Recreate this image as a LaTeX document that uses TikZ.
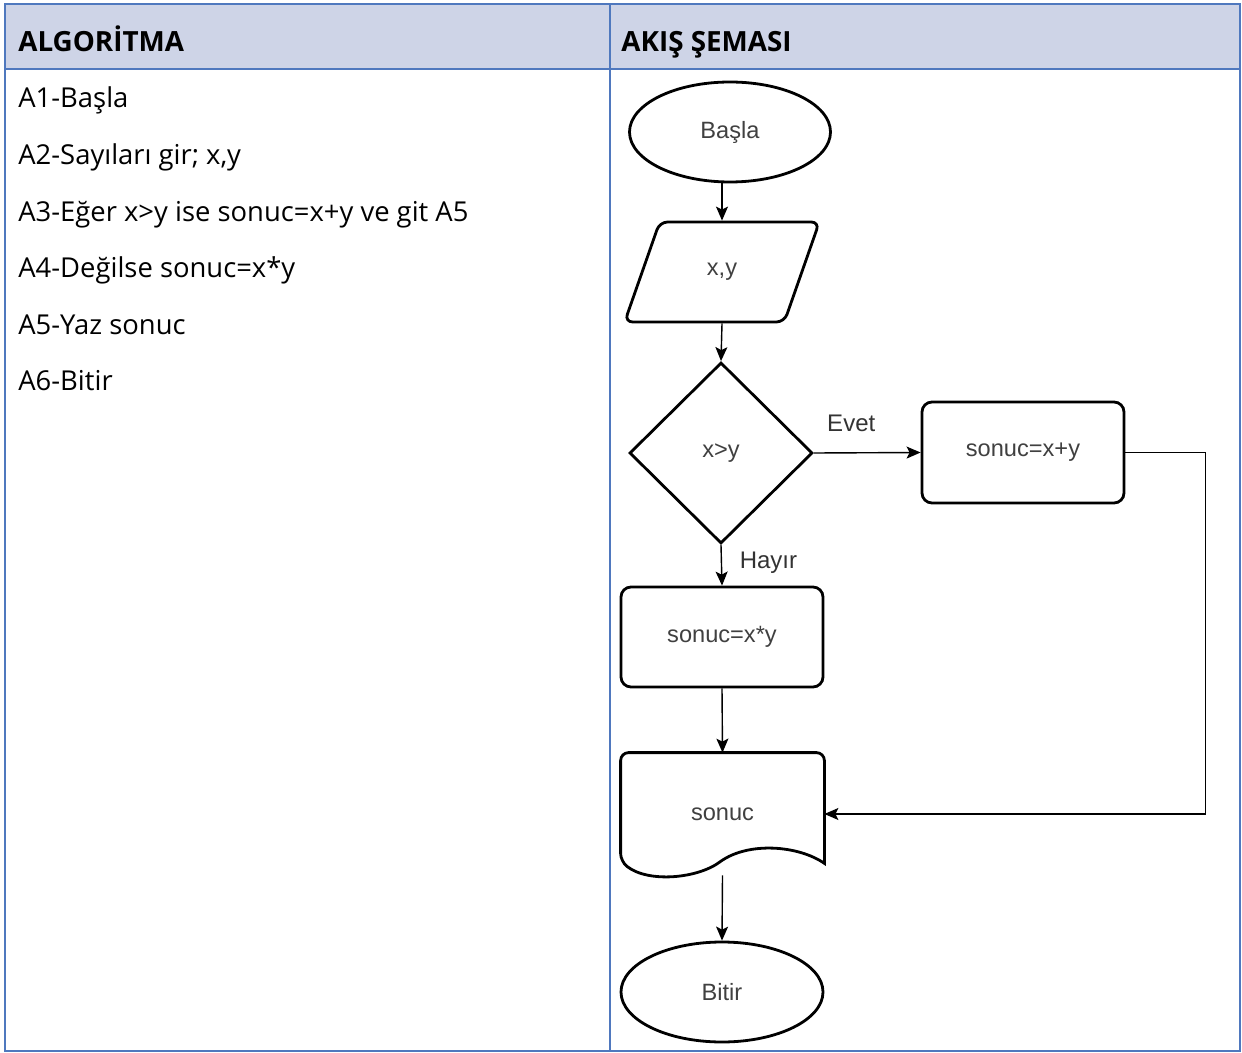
\documentclass[tikz,border=0pt]{standalone}
\usepackage{fontspec}
\setmainfont{Open Sans}
\newfontfamily\chartfont{Liberation Sans}
\usetikzlibrary{arrows.meta,calc,shapes.geometric}
\definecolor{tblborder}{RGB}{79,120,190}
\definecolor{tblhead}{RGB}{206,212,231}
\definecolor{chartgray}{RGB}{64,64,64}
\definecolor{labelgray}{RGB}{51,51,51}

\begin{document}
\begin{tikzpicture}[x=0.5pt,y=-0.5pt,
  shp/.style={draw=black,line width=1.4pt,font=\chartfont\fontsize{11.8}{14}\selectfont,text=chartgray,inner sep=0pt},
  arr/.style={line width=0.7pt,-{Stealth[length=7pt,width=6pt,inset=1.5pt]}},
  lbl/.style={font=\chartfont\fontsize{12}{14}\selectfont,text=labelgray},
  head/.style={anchor=base west,inner sep=0pt,font=\bfseries\fontsize{13.9}{16}\selectfont},
  algline/.style={anchor=base west,inner sep=0pt,font=\fontsize{13.7}{16}\selectfont}]
  \useasboundingbox (0,0) rectangle (1242,1053);
  \fill[tblhead] (5,4) rectangle (1240,69);
  \draw[tblborder,line width=1pt] (5,4) rectangle (1240,1051) (5,69) -- (1240,69) (610,4) -- (610,1051);
  \node[head] (halg) at (18,52) {ALGORİTMA};
  \node[head] (hakis) at (621,52) {AKIŞ ŞEMASI};
  \node[algline] (a1) at (18,108) {A1-Başla};
  \node[algline] (a2) at (18,164.6) {A2-Sayıları gir; x,y};
  \node[algline] (a3) at (18,221.2) {A3-Eğer x>y ise sonuc=x+y ve git A5};
  \node[algline] (a4) at (18,277.8) {A4-Değilse sonuc=x*y};
  \node[algline] (a5) at (18,334.4) {A5-Yaz sonuc};
  \node[algline] (a6) at (18,391) {A6-Bitir};

  \node[shp,ellipse,minimum width=100.5pt,minimum height=50pt] (basla) at (730,132) {Başla};
  \node[shp,trapezium,trapezium left angle=64,trapezium right angle=116,trapezium stretches=true,
    minimum width=97.5pt,minimum height=50pt,rounded corners=4pt] (giris) at (722,272) {x,y};
  \node[shp,diamond,aspect=1,minimum width=91.5pt,minimum height=90.5pt] (kosul) at (721,453) {x>y};
  \node[shp,rectangle,rounded corners=5pt,minimum width=101pt,minimum height=50.5pt] (topla) at (1023,452.5) {sonuc=x+y};
  \node[shp,rectangle,rounded corners=5pt,minimum width=101pt,minimum height=50pt] (carp) at (722,637) {sonuc=x*y};
  \node[shp,draw=none,minimum width=100.5pt,minimum height=60pt] (yaz) at (722.5,814) {sonuc};
  \draw[line width=1.4pt] ($(yaz.south east)+(0,-12)$) [rounded corners=4pt] -- (yaz.north east) -- (yaz.north west)
    -- ($(yaz.south west)+(0,-14)$) [sharp corners]
    .. controls ($(yaz.south west)+(28,8)$) and ($(yaz.south west)+(78,3)$) .. ($(yaz.south west)+(100,-14)$)
    .. controls ($(yaz.south west)+(128,-34)$) and ($(yaz.south west)+(178,-30)$) .. cycle;
  \node[shp,ellipse,minimum width=101pt,minimum height=50pt] (bitir) at (722,992) {Bitir};

  \draw[arr] (giris.north |- basla.south) -- (giris.north);
  \draw[arr] (giris.south) -- (kosul.north);
  \draw[arr] (kosul.east) -- node[lbl,pos=0.35,above=7pt] (evet) {Evet} (topla.west);
  \draw[arr] (kosul.south) -- node[lbl,pos=0.45,right=5.5pt] (hayir) {Hayır} (carp.north);
  \draw[arr] (carp.south) -- (yaz.north);
  \draw[arr] (yaz.south) -- (bitir.north);
  \draw[arr] (topla.east) -- ++(80,0) |- (yaz.east);
\end{tikzpicture}
\end{document}
